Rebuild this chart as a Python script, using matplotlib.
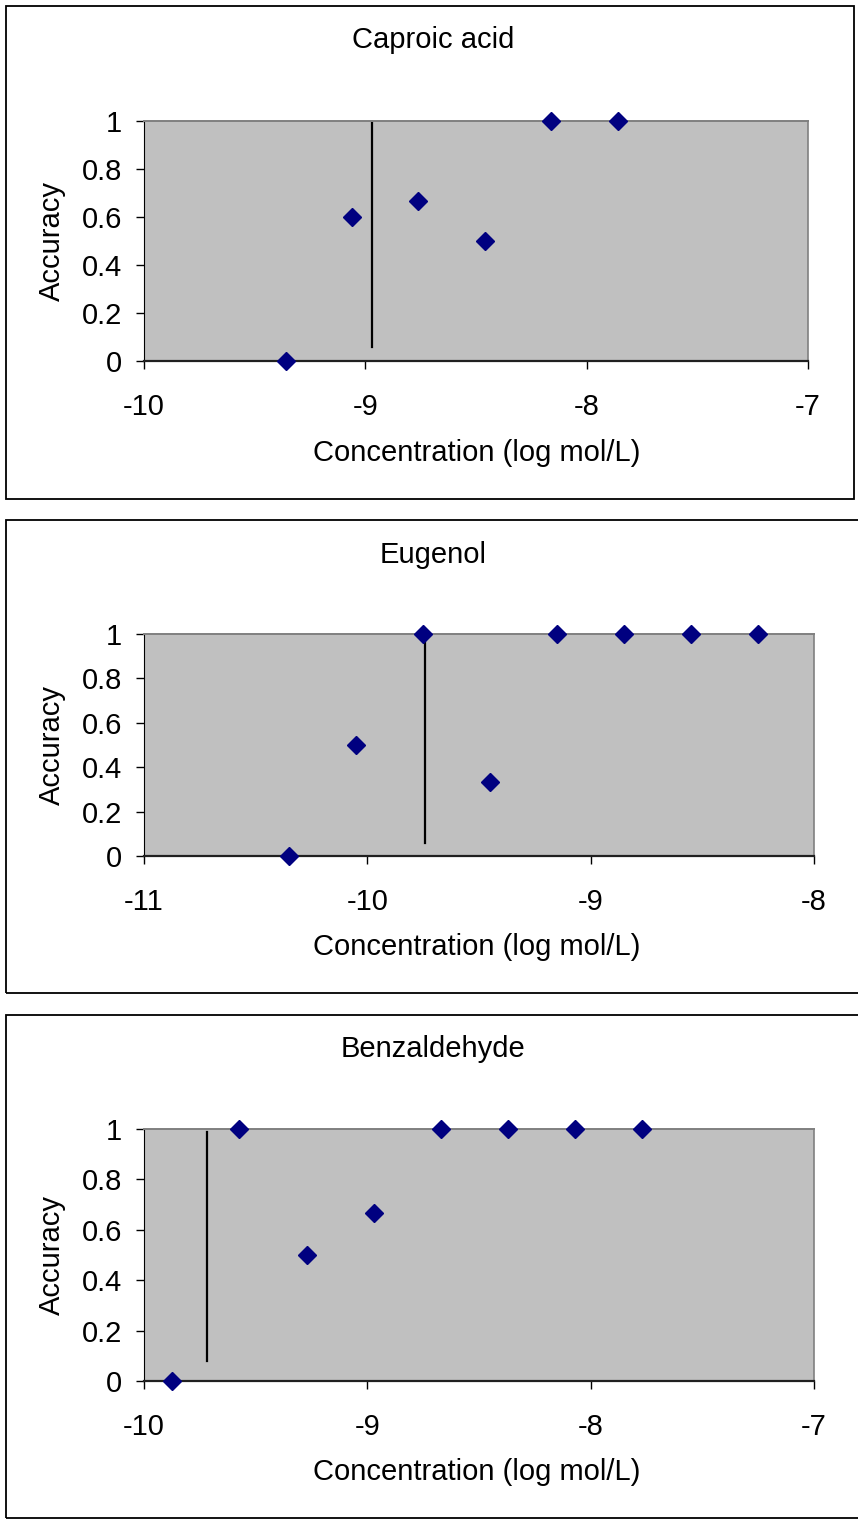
import numpy as np
import matplotlib
matplotlib.use("Agg")
import matplotlib.pyplot as plt
from matplotlib.patches import Rectangle

plt.rcParams['font.family'] = ['Liberation Sans', 'DejaVu Sans']

# data
titles = ['Caproic acid', 'Eugenol', 'Benzaldehyde']

caproic_x = [-9.36, -9.06, -8.76, -8.46, -8.16, -7.86]
caproic_y = [0.0, 0.6, 0.667, 0.5, 1.0, 1.0]

eugenol_x = [-10.35, -10.05, -9.75, -9.45, -9.15, -8.85, -8.55, -8.25]
eugenol_y = [0.0, 0.5, 1.0, 0.333, 1.0, 1.0, 1.0, 1.0]

benz_x = [-9.875, -9.575, -9.27, -8.97, -8.67, -8.37, -8.07, -7.77]
benz_y = [0.0, 1.0, 0.5, 0.667, 1.0, 1.0, 1.0, 1.0]

# vertical threshold line: x, y bottom, y top
thresh_x = [-8.97, -9.74, -9.72]
thresh_y0 = [0.06, 0.06, 0.08]
thresh_y1 = [0.99, 0.99, 0.99]

xlims = [(-10, -7), (-11, -8), (-10, -7)]
xticks = [[-10, -9, -8, -7], [-11, -10, -9, -8], [-10, -9, -8, -7]]
yticks = [0, 0.2, 0.4, 0.6, 0.8, 1]
ytick_labels = ['0', '0.2', '0.4', '0.6', '0.8', '1']

xs = [caproic_x, eugenol_x, benz_x]
ys = [caproic_y, eugenol_y, benz_y]

W, H = 858, 1520
fig = plt.figure(figsize=(W / 100, H / 100), dpi=100)

def fx(px):
    return px / W

def fy(py):
    return 1 - py / H

# pixel layout of each panel: box (left, top, right, bottom), axes (left, top, right, bottom)
boxes = [(6, 6, 854, 499), (6, 520, 870, 993), (6, 1015, 870, 1518)]
axes_px = [(144, 121, 808, 361), (144, 634, 814, 856), (144, 1129, 814, 1381)]
title_y = [40, 555, 1049]
xlabel_y = [453, 947, 1472]
fs = 21

for i in range(3):
    bl, bt, br, bb = boxes[i]
    fig.patches.append(Rectangle((fx(bl), fy(bb)), fx(br - bl), (bb - bt) / H,
                                 transform=fig.transFigure, fill=False,
                                 edgecolor='black', linewidth=1.3))
    al, at, ar, ab = axes_px[i]
    ax = fig.add_axes([fx(al), fy(ab), fx(ar - al), (ab - at) / H])
    ax.set_facecolor('#c0c0c0')
    ax.plot([thresh_x[i], thresh_x[i]], [thresh_y0[i], thresh_y1[i]],
            color='black', linewidth=1.6)
    ax.plot(xs[i], ys[i], linestyle='none', marker='D', markersize=8.8,
            color='#000080', clip_on=False, zorder=5)
    ax.set_xlim(*xlims[i])
    ax.set_ylim(0, 1)
    ax.set_xticks(xticks[i])
    ax.set_xticklabels([str(t) for t in xticks[i]])
    ax.set_yticks(yticks)
    ax.set_yticklabels(ytick_labels)
    ax.tick_params(axis='x', direction='out', length=6, width=1, pad=17, labelsize=fs)
    ax.tick_params(axis='y', direction='out', length=6, width=1, pad=10, labelsize=fs)
    ax.spines['left'].set_color('black')
    ax.spines['bottom'].set_color('#202020')
    ax.spines['bottom'].set_linewidth(1.6)
    ax.spines['top'].set_color('#808080')
    ax.spines['right'].set_color('#808080')
    ax.spines['top'].set_linewidth(1.4)
    ax.spines['right'].set_linewidth(1.2)
    fig.text(fx(433), fy(title_y[i]), titles[i], ha='center', va='center', fontsize=fs)
    fig.text(fx(477), fy(xlabel_y[i]), 'Concentration (log mol/L)', ha='center',
             va='center', fontsize=fs)
    fig.text(fx(52), fy((at + ab) / 2), 'Accuracy', ha='center', va='center',
             rotation=90, fontsize=fs)

fig.savefig('out.png', dpi=100)
